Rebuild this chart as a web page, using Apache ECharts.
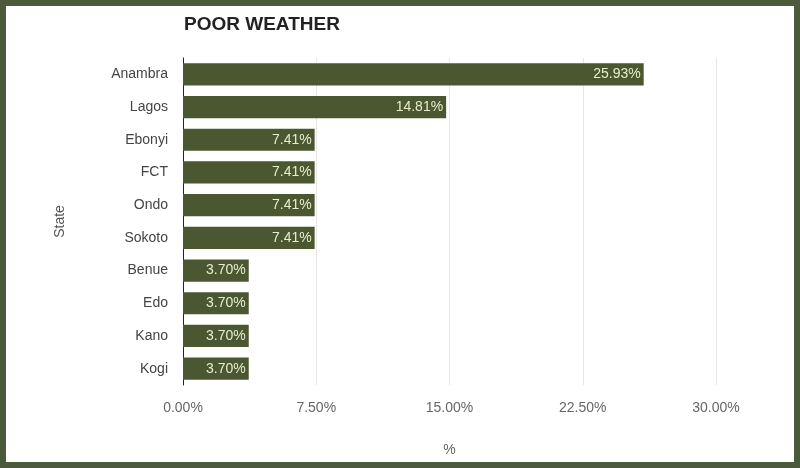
<!DOCTYPE html>
<html>
<head>
<meta charset="utf-8">
<script src="https://cdn.jsdelivr.net/npm/echarts@6/dist/echarts.min.js"></script>
<style>
html,body{margin:0;padding:0;background:#fff;}
#frame{position:absolute;left:0;top:0;width:800px;height:468px;box-sizing:border-box;border:6px solid #4b5a3b;background:#fff;}
#chart{position:absolute;left:0;top:0;width:788px;height:456px;}
</style>
</head>
<body>
<div id="frame"><div id="chart"></div></div>
<script>
const categories = ["Anambra","Lagos","Ebonyi","FCT","Ondo","Sokoto","Benue","Edo","Kano","Kogi"];
const values = [25.93,14.81,7.41,7.41,7.41,7.41,3.70,3.70,3.70,3.70];
const tickValues = [0,7.5,15,22.5,30];

const FONT = 'Liberation Sans, Arial';
const chart = echarts.init(document.getElementById('chart'));
chart.setOption({
  animation:false,
  title:{text:'POOR WEATHER',left:173,top:4,textStyle:{fontFamily:FONT,fontWeight:'bold',fontSize:19,color:'#222'}},
  grid:{left:177,right:78,top:52,bottom:76},
  xAxis:{type:'value',min:tickValues[0],max:tickValues[tickValues.length-1],interval:tickValues[1]-tickValues[0],
    name:'%',nameLocation:'middle',nameGap:58,
    nameTextStyle:{color:'#666',fontSize:14,fontFamily:FONT},
    axisLine:{show:false},axisTick:{show:false},
    axisLabel:{color:'#666',fontSize:14,margin:16,fontFamily:FONT,formatter:v=>v.toFixed(2)+'%'},
    splitLine:{lineStyle:{color:'#e6e6e6'}}},
  yAxis:{type:'category',data:categories,inverse:true,
    name:'State',nameLocation:'middle',nameGap:116,nameRotate:90,
    nameTextStyle:{color:'#555',fontSize:14,fontFamily:FONT},
    axisLine:{show:true,lineStyle:{color:'#222',width:1}},axisTick:{show:false},
    axisLabel:{color:'#444',fontSize:14,margin:15,fontFamily:FONT}},
  series:[{type:'bar',data:values,barCategoryGap:'32%',
    itemStyle:{color:'#4a5730'},
    label:{show:true,position:'insideRight',color:'#e8eccf',fontSize:14,distance:3,fontFamily:FONT,
      formatter:p=>p.value.toFixed(2)+'%'}}]
});
</script>
</body>
</html>
